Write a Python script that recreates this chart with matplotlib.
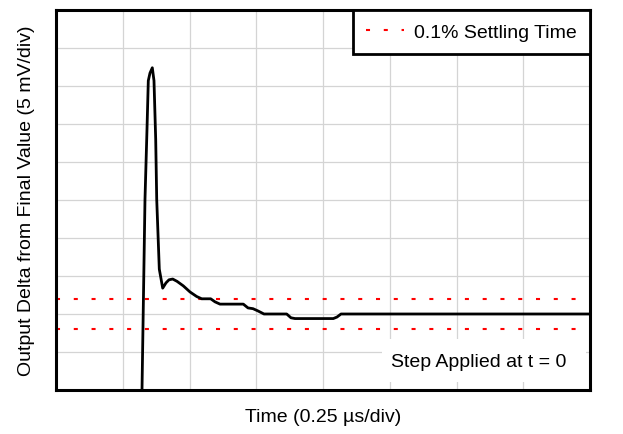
import matplotlib
matplotlib.use("Agg")
import matplotlib.pyplot as plt
import matplotlib.patches as patches

plt.rcParams['font.family'] = ['Liberation Sans', 'DejaVu Sans']
plt.rcParams['lines.scale_dashes'] = False

# time in us, output delta from final value in mV
t_us = [0.3206, 0.3221, 0.3333, 0.3408, 0.3457, 0.3520, 0.3607, 0.3670,
        0.3734, 0.3772, 0.3869, 0.3996, 0.4120, 0.4232, 0.4371, 0.4532,
        0.4768, 0.5019, 0.5270, 0.5457, 0.5794, 0.5955, 0.6142, 0.7015,
        0.7191, 0.7378, 0.7566, 0.7790, 0.8640, 0.8801, 0.8951, 1.0386,
        1.0524, 1.0674, 1.0824, 2.0]
delta_mv = [-11.2, -10.0, 15.1, 24.3, 30.7, 31.7, 32.4, 30.7,
            23.0, 15.1, 5.9, 3.4, 4.1, 4.5, 4.6, 4.3,
            3.7, 2.9, 2.3, 2.0, 2.0, 1.6, 1.3, 1.3,
            0.8, 0.7, 0.4, 0.0, 0.0, -0.5, -0.6, -0.6,
            -0.4, 0.0, 0.0, 0.0]
settle_band = [2.0, -2.0]

fig = plt.figure(figsize=(6.23, 4.35), dpi=100)
ax = fig.add_axes([56 / 623, 1 - 391 / 435, 534 / 623, 380 / 435])

ax.set_xlim(0, 2.0)
ax.set_ylim(-10, 40)
ax.set_xticks([i * 0.25 for i in range(9)])
ax.set_yticks([-10 + i * 5 for i in range(11)])
ax.tick_params(length=0, labelbottom=False, labelleft=False)
ax.grid(True, color='#d4d4d4', linewidth=0.9)
ax.set_axisbelow(True)

for s in ax.spines.values():
    s.set_linewidth(2.2)
    s.set_zorder(5)

for i, lvl in enumerate(settle_band):
    ax.axhline(lvl, color='#ff0000', linewidth=1.5, dashes=(2.9, 9.9),
               label='0.1% Settling Time' if i == 0 else None, zorder=2)

ax.plot(t_us, delta_mv, color='black', linewidth=2.0, zorder=3)

# white patch behind the note, hides the grid there
ax.add_patch(patches.Rectangle((0.6105, 0.021), 0.382, 0.113, transform=ax.transAxes,
                               facecolor='white', edgecolor='none', zorder=1))
ax.text(1.582, -6.3, 'Step Applied at t = 0', fontsize=14, ha='center', va='center',
        zorder=4)

leg = ax.legend(loc='upper right', fontsize=14, borderaxespad=0, fancybox=False,
                framealpha=1, edgecolor='black', borderpad=0.68,
                handlelength=1.95, handletextpad=0.5)
leg.get_frame().set_linewidth(2.0)
leg.set_zorder(6)

ax.set_xlabel('Time (0.25 \u00b5s/div)', fontsize=14, labelpad=13)
ax.set_ylabel('Output Delta from Final Value (5 mV/div)', fontsize=14, labelpad=15)

fig.savefig('out.png', dpi=100)
